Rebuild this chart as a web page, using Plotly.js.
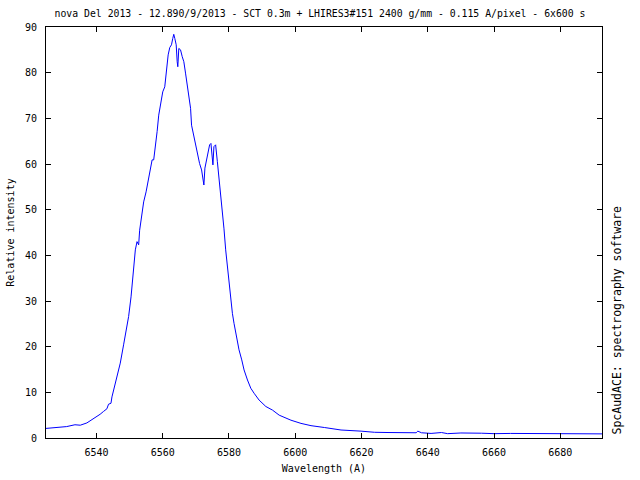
<!DOCTYPE html>
<html>
<head>
<meta charset="utf-8">
<script src="https://cdn.plot.ly/plotly-3.0.1.min.js"></script>
<style>html,body{margin:0;padding:0;background:#fff;}#chart{width:640px;height:480px;}</style>
</head>
<body>
<div id="chart"></div>
<script>
// Wavelength (A)
const wavelength = [
  6524.76, 6527.5, 6531.0, 6533.5, 6535.1, 6537.1, 6538.1, 6539.1, 6540.1, 6541.1,
  6542.1, 6543.15, 6543.64, 6544.37, 6544.67, 6545.37, 6546.18, 6547.18, 6548.18, 6549.0,
  6549.7, 6550.43, 6551.03, 6551.73, 6552.24, 6552.73, 6553.03, 6553.55, 6554.24, 6554.97,
  6555.76, 6556.27, 6556.79, 6557.27, 6557.79, 6558.3, 6558.79, 6559.3, 6560.0, 6560.61,
  6561.03, 6561.64, 6562.12, 6562.64, 6563.03, 6563.33, 6563.64, 6564.06, 6564.36, 6564.55,
  6564.85, 6565.37, 6565.88, 6566.37, 6566.88, 6567.4, 6567.88, 6568.4, 6568.7, 6569.1,
  6569.7, 6570.12, 6570.73, 6571.12, 6571.73, 6572.12, 6572.42, 6572.73, 6573.15, 6573.64,
  6574.15, 6574.55, 6574.97, 6575.15, 6575.45, 6575.97, 6576.49, 6576.97, 6577.49, 6578.0,
  6578.49, 6579.0, 6579.52, 6580.0, 6580.52, 6581.03, 6581.52, 6582.03, 6582.55, 6583.03,
  6583.85, 6584.55, 6585.58, 6586.58, 6587.58, 6589.09, 6591.12, 6593.15, 6595.15, 6597.18,
  6598.7, 6601.73, 6604.76, 6608.79, 6613.82, 6619.88, 6623.94, 6628.0, 6632.0, 6636.5,
  6637.0, 6638.1, 6641.0, 6644.15, 6646.0, 6650.0, 6656.27, 6660.0, 6665.0, 6668.4,
  6675.0, 6680.5, 6686.0, 6692.6
];
// Relative intensity
const intensity = [
  2.1, 2.3, 2.5, 2.9, 2.8, 3.3, 3.8, 4.1, 4.7, 5.2,
  5.8, 6.4, 7.4, 7.6, 9.0, 11.2, 13.4, 16.4, 20.4, 23.6,
  26.6, 30.9, 36.1, 41.2, 43.0, 42.3, 45.5, 48.5, 51.7, 53.9,
  56.9, 59.1, 60.9, 60.9, 64.9, 67.1, 70.7, 73.3, 75.8, 76.9,
  80.2, 83.9, 85.5, 86.1, 87.5, 88.4, 87.5, 86.1, 82.4, 81.3,
  85.3, 85.0, 83.5, 82.4, 79.9, 77.3, 75.1, 72.2, 68.5, 67.1,
  65.3, 63.8, 61.2, 60.1, 58.7, 56.1, 55.4, 59.1, 60.5, 62.0,
  64.2, 64.5, 62.0, 59.8, 63.8, 64.2, 60.5, 57.0, 54.0, 50.0,
  45.8, 41.2, 37.5, 34.0, 30.2, 27.3, 25.1, 22.9, 21.1, 19.3,
  17.1, 14.9, 12.7, 10.9, 9.8, 8.3, 6.9, 6.1, 5.0, 4.3,
  3.9, 3.2, 2.7, 2.3, 1.75, 1.5, 1.25, 1.2, 1.16, 1.15,
  1.5, 1.15, 1.0, 1.2, 0.95, 1.1, 1.05, 0.95, 1.0, 1.0,
  0.95, 0.95, 0.9, 0.9
];
const xTicks = [6540, 6560, 6580, 6600, 6620, 6640, 6660, 6680];
const yTicks = [0, 10, 20, 30, 40, 50, 60, 70, 80, 90];

const FONT = 'DejaVu Sans Mono, monospace';
const trace = {
  x: wavelength, y: intensity, type: 'scatter', mode: 'lines',
  line: {color: '#0000ff', width: 1}, hoverinfo: 'skip'
};
const axisCommon = {
  showline: true, linecolor: '#000', linewidth: 1, mirror: 'allticks',
  ticks: 'inside', ticklen: 5, tickwidth: 1, tickcolor: '#000',
  showgrid: false, zeroline: false,
  tickfont: {family: FONT, size: 10, color: '#000'}
};
const layout = {
  width: 640, height: 480,
  margin: {l: 46, r: 38, t: 27, b: 42, pad: 0},
  paper_bgcolor: '#fff', plot_bgcolor: '#fff',
  showlegend: false,
  title: {text: 'nova Del 2013 - 12.890/9/2013 - SCT 0.3m + LHIRES3#151 2400 g/mm - 0.115 A/pixel - 6x600 s',
          font: {family: FONT, size: 9.8, color: '#000'}, x: 0.5, xanchor: 'center', y: 0.972, yanchor: 'middle'},
  xaxis: Object.assign({}, axisCommon, {
    range: [6524.76, 6692.6], tickvals: xTicks, ticktext: xTicks.map(String),
    ticklabelstandoff: 5,
    title: {text: 'Wavelength (A)', font: {family: FONT, size: 10, color: '#000'}, standoff: 7}
  }),
  yaxis: Object.assign({}, axisCommon, {
    range: [0, 90], tickvals: yTicks, ticktext: yTicks.map(String),
    ticklabelstandoff: 6,
    title: {text: 'Relative intensity', font: {family: FONT, size: 10, color: '#000'}, standoff: 8}
  }),
  annotations: [{
    text: 'SpcAudACE: spectrography software', xref: 'paper', yref: 'paper',
    x: 1.0, y: 0.0, xanchor: 'left', yanchor: 'bottom', xshift: 5, yshift: 1,
    textangle: -90, showarrow: false, font: {family: FONT, size: 11.5, color: '#000'}
  }]
};
Plotly.newPlot('chart', [trace], layout, {staticPlot: true, displayModeBar: false});
</script>
</body>
</html>
